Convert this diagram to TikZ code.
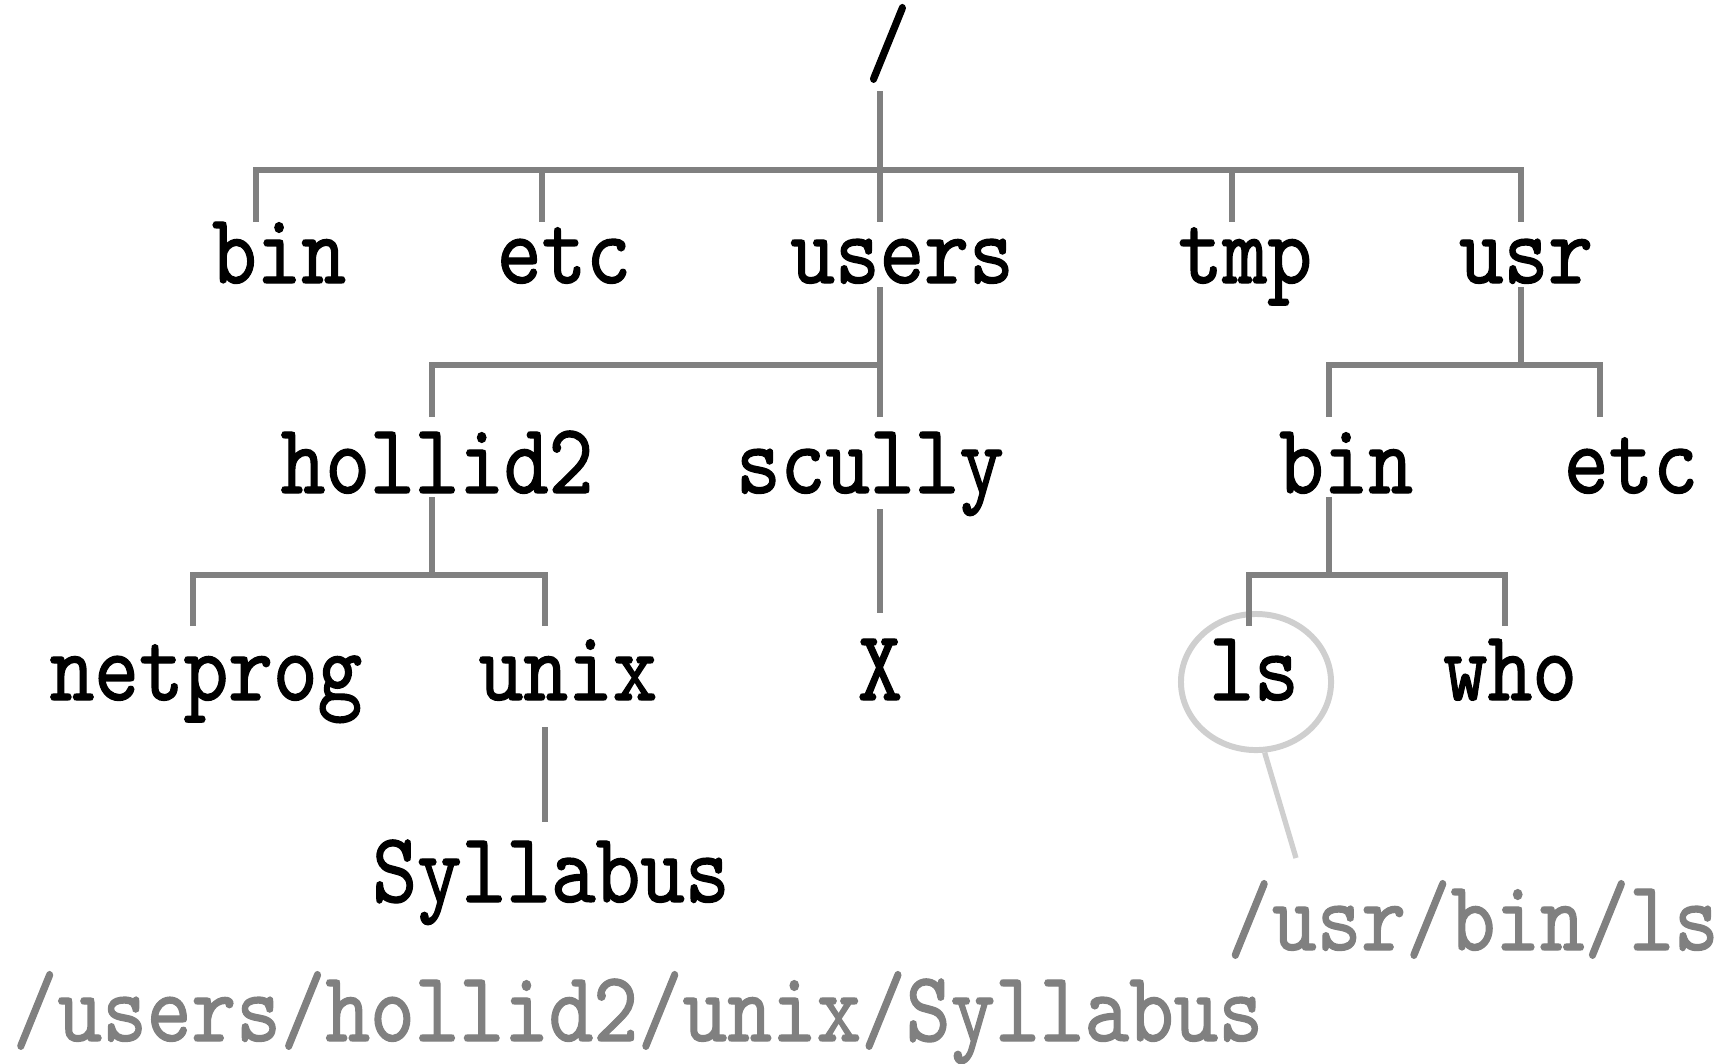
\documentclass[tikz,border=0pt]{standalone}
\usepackage{fontspec}
\usepackage{xcolor}
\usetikzlibrary{shapes.geometric}
\newfontfamily\dirfont{lmmono10-regular}[Extension=.otf, FakeStretch=0.85, FakeBold=1.2]
\definecolor{branch}{HTML}{808080}
\definecolor{pathtext}{HTML}{808080}
\definecolor{halo}{HTML}{CFCFCF}

\begin{document}
\begin{tikzpicture}[x=0.01cm, y=-0.01cm,
  dir/.style={anchor=base, inner sep=0pt, font=\dirfont\fontsize{28.45pt}{30pt}\selectfont},
  fullpath/.style={dir, text=pathtext},
  link/.style={draw=branch, line width=1.56pt, line join=miter},
  ring/.style={draw=halo, line width=1.7pt, ellipse, minimum width=1.5cm, minimum height=1.36cm},
  pointer/.style={draw=halo, line width=1.5pt}
]
\useasboundingbox (0,0) rectangle (1725,1063);
% directory names
\node[dir] (root)   at (888,74)   {/};
\node[dir] (bin)    at (279,283)  {bin};
\node[dir] (etc)    at (564,283)  {etc};
\node[dir] (users)  at (902,283)  {users};
\node[dir] (tmp)    at (1245,283) {tmp};
\node[dir] (usr)    at (1526,283) {usr};
\node[dir] (hollid) at (437,493)  {hollid2};
\node[dir] (scully) at (870,493)  {scully};
\node[dir] (ubin)   at (1346,493) {bin};
\node[dir] (uetc)   at (1631,493) {etc};
\node[dir] (netp)   at (206,700)  {netprog};
\node[dir] (unix)   at (568,700)  {unix};
\node[dir] (xdir)   at (880,700)  {X};
\node[dir] (ls)     at (1254,700) {ls};
\node[dir] (who)    at (1510,700) {who};
\node[dir] (syl)    at (551,902)  {Syllabus};
% full paths
\node[fullpath] (lspath)  at (1473,950)  {/usr/bin/ls};
\node[fullpath] (sylpath) at (638,1041)  {/users/hollid2/unix/Syllabus};
\node[ring] (lsring) at (1256,682) {};
\coordinate (lstip) at (1296,858);

% junctions
\coordinate (j0) at (880,170);
\coordinate (j1) at (880,365);
\coordinate (j2) at (1521,365);
\coordinate (j3) at (432,575);
\coordinate (j4) at (1329,575);

% root
\draw[link] (880,91) -- (j0);
\draw[link] (256,222) |- (j0) -| (1521,222);
\draw[link] (542,170) -- (542,222);
\draw[link] (880,170) -- (880,222);
\draw[link] (1232,170) -- (1232,222);
% users
\draw[link] (880,287) -- (j1);
\draw[link] (432,417) |- (j1) -- (880,417);
% usr
\draw[link] (1521,287) -- (j2);
\draw[link] (1329,417) |- (j2) -| (1600,417);
% hollid2
\draw[link] (432,497) -- (j3);
\draw[link] (193,626) |- (j3) -| (545,626);
% scully
\draw[link] (880,509) -- (880,613);
% usr/bin
\draw[link] (1329,497) -- (j4);
\draw[link] (1249,626) |- (j4) -| (1505,626);
% unix
\draw[link] (545,727) -- (545,822);
% pointer
\draw[pointer] (lsring.-83) -- (lstip);
\end{tikzpicture}
\end{document}
